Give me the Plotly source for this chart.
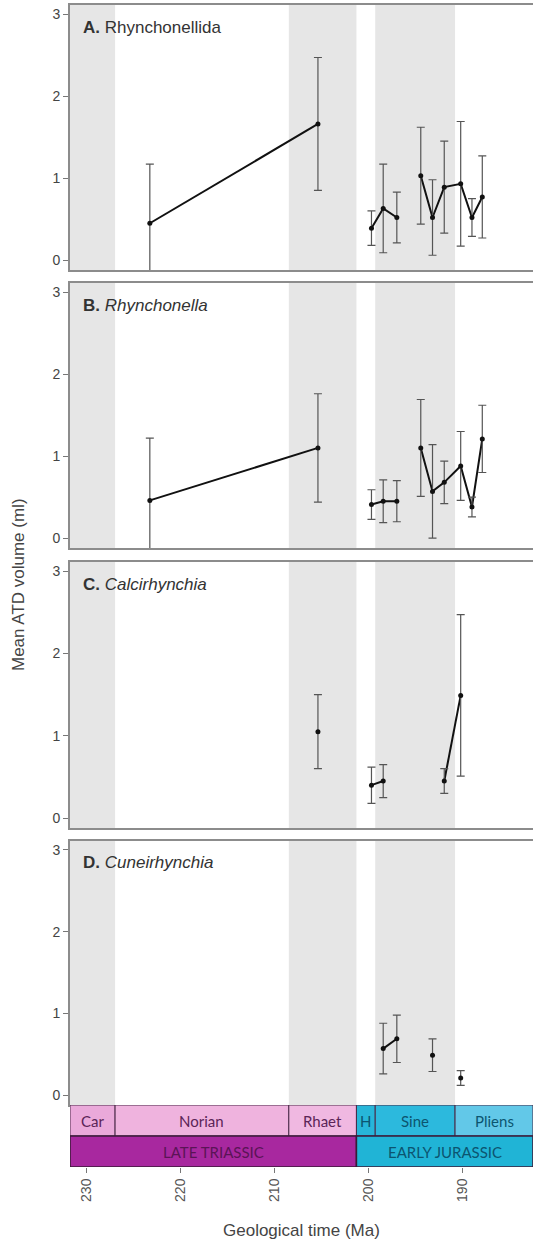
import plotly.graph_objects as go

# Sample ages (Ma) shared by the order- and genus-level series
ages_main = [223.3, 205.4, 199.7, 198.45, 197.0, 194.45, 193.2, 191.95, 190.2, 189.0, 187.9]

# A. Rhynchonellida
rhynchonellida_mean = [0.45, 1.66, 0.39, 0.63, 0.52, 1.03, 0.52, 0.89, 0.93, 0.52, 0.77]
rhynchonellida_sd = [0.72, 0.81, 0.21, 0.54, 0.31, 0.59, 0.46, 0.56, 0.76, 0.23, 0.50]
rhynchonellida_run = [0, 0, 1, 1, 1, 2, 2, 2, 2, 2, 2]

# B. Rhynchonella
rhynchonella_mean = [0.46, 1.10, 0.41, 0.45, 0.45, 1.10, 0.57, 0.68, 0.88, 0.38, 1.21]
rhynchonella_sd = [0.76, 0.66, 0.18, 0.26, 0.25, 0.59, 0.57, 0.26, 0.42, 0.12, 0.41]
rhynchonella_run = [0, 0, 1, 1, 1, 2, 2, 2, 2, 2, 2]

# C. Calcirhynchia
calcirhynchia_age = [205.4, 199.7, 198.45, 191.95, 190.2]
calcirhynchia_mean = [1.05, 0.40, 0.45, 0.45, 1.49]
calcirhynchia_sd = [0.45, 0.22, 0.20, 0.15, 0.98]
calcirhynchia_run = [0, 1, 1, 2, 2]

# D. Cuneirhynchia
cuneirhynchia_age = [198.45, 197.0, 193.2, 190.2]
cuneirhynchia_mean = [0.57, 0.69, 0.49, 0.21]
cuneirhynchia_sd = [0.31, 0.29, 0.20, 0.09]
cuneirhynchia_run = [0, 0, 1, 2]

# Time scale
x_old, x_young = 231.8, 182.5
stage_names = ["Car", "Norian", "Rhaet", "H", "Sine", "Pliens"]
stage_start = [231.8, 227.0, 208.5, 201.3, 199.3, 190.8]
stage_end = [227.0, 208.5, 201.3, 199.3, 190.8, 182.5]
stage_fill = ["#eaa9da", "#efb3de", "#f0b8e1", "#27b6d9", "#2cb9dd", "#62c8e8"]
stage_text = ["#5b2457", "#5b2457", "#5b2457", "#0c5570", "#0c5570", "#0c5570"]
epoch_names = ["LATE TRIASSIC", "EARLY JURASSIC"]
epoch_start = [231.8, 201.3]
epoch_end = [201.3, 182.5]
epoch_fill = ["#a8289f", "#20b4d6"]
epoch_text = ["#5a1456", "#0c5570"]

# Grey bands shown behind every panel (Carnian, Rhaetian, Sinemurian)
band_start = [231.8, 208.5, 199.3]
band_end = [227.0, 201.3, 190.8]
x_ticks = [230, 220, 210, 200, 190]

panels = [
    ("<b>A.</b> Rhynchonellida", ages_main, rhynchonellida_mean, rhynchonellida_sd, rhynchonellida_run),
    ("<b>B.</b> <i>Rhynchonella</i>", ages_main, rhynchonella_mean, rhynchonella_sd, rhynchonella_run),
    ("<b>C.</b> <i>Calcirhynchia</i>", calcirhynchia_age, calcirhynchia_mean, calcirhynchia_sd, calcirhynchia_run),
    ("<b>D.</b> <i>Cuneirhynchia</i>", cuneirhynchia_age, cuneirhynchia_mean, cuneirhynchia_sd, cuneirhynchia_run),
]

W, H = 533, 1243
top_px, bottom_px = 5, 1167
span = bottom_px - top_px


def frac(y_px):
    return (bottom_px - y_px) / span


panel_px = [(5, 270), (283, 548), (562, 828), (841, 1105)]
frame_col = "#8c8c8c"
font_fam = "Liberation Sans, Arial, sans-serif"
scale_fam = "Lato, Open Sans, sans-serif"

fig = go.Figure()
layout = dict(
    width=W, height=H,
    margin=dict(l=70, r=0, t=top_px, b=H - bottom_px, pad=0),
    plot_bgcolor="white", paper_bgcolor="white",
    showlegend=False,
    font=dict(family=font_fam, color="#444444"),
)
shapes = []
annotations = []

for i, (label, ages, mean, sd, run) in enumerate(panels, start=1):
    xa = "x" if i == 1 else f"x{i}"
    ya = "y" if i == 1 else f"y{i}"
    t, b = panel_px[i - 1]
    layout[f"xaxis{i if i > 1 else ''}"] = dict(
        domain=[0, 1], range=[x_old, x_young], anchor=ya,
        showline=True, mirror=True, linecolor=frame_col, linewidth=2,
        showticklabels=False, ticks="", showgrid=False, zeroline=False,
    )
    layout[f"yaxis{i if i > 1 else ''}"] = dict(
        domain=[frac(b), frac(t)], range=[-0.12, 3.11], anchor=xa,
        tickvals=[0, 1, 2, 3], ticks="outside", ticklen=5, tickcolor="#777777",
        showline=True, linecolor=frame_col, linewidth=2,
        showgrid=False, zeroline=False,
        tickfont=dict(size=14, color="#444444"),
    )
    for s, e in zip(band_start, band_end):
        shapes.append(dict(type="rect", xref=xa, yref=f"{ya} domain",
                           x0=s, x1=e, y0=0, y1=1, fillcolor="#e6e6e6",
                           line=dict(width=0), layer="below"))
    # connecting lines, broken between runs
    lx, ly = [], []
    for k in range(len(ages)):
        if k > 0 and run[k] != run[k - 1]:
            lx.append(None)
            ly.append(None)
        lx.append(ages[k])
        ly.append(mean[k])
    fig.add_trace(go.Scatter(x=lx, y=ly, mode="lines", xaxis=xa, yaxis=ya,
                             line=dict(color="#111111", width=2),
                             connectgaps=False, hoverinfo="skip"))
    fig.add_trace(go.Scatter(
        x=ages, y=mean, mode="markers", xaxis=xa, yaxis=ya,
        marker=dict(color="#111111", size=5),
        error_y=dict(type="data", array=sd, visible=True,
                     color="#555555", thickness=1.2, width=4),
    ))
    annotations.append(dict(
        text=label, xref=f"{xa} domain", yref=f"{ya} domain",
        x=(81 - 70) / 463, y=1 - 22 / (b - t), xanchor="left", yanchor="middle",
        showarrow=False, font=dict(size=17, color="#333333", family=font_fam),
    ))

# Time-scale strip with the tick labels underneath
layout["xaxis5"] = dict(
    domain=[0, 1], range=[x_old, x_young], anchor="y5",
    tickvals=x_ticks, ticks="outside", ticklen=5, tickcolor="#777777",
    tickangle=-90, tickfont=dict(size=14, color="#555555"),
    showline=False, showgrid=False, zeroline=False,
)
layout["yaxis5"] = dict(domain=[0, frac(1105)], range=[0, 2], visible=False,
                        anchor="x5")
for name, s, e, fc, tc in zip(stage_names, stage_start, stage_end, stage_fill, stage_text):
    shapes.append(dict(type="rect", xref="x5", yref="y5", x0=s, x1=e, y0=1, y1=2,
                       fillcolor=fc, line=dict(color="#4a2a48", width=1)))
    annotations.append(dict(text=name, xref="x5", yref="y5", x=(s + e) / 2, y=1.5,
                            showarrow=False, font=dict(size=15, color=tc, family=scale_fam)))
for name, s, e, fc, tc in zip(epoch_names, epoch_start, epoch_end, epoch_fill, epoch_text):
    shapes.append(dict(type="rect", xref="x5", yref="y5", x0=s, x1=e, y0=0, y1=1,
                       fillcolor=fc, line=dict(color="#3a1a38", width=1.5)))
    annotations.append(dict(text=name, xref="x5", yref="y5", x=(s + e) / 2, y=0.5,
                            showarrow=False, font=dict(size=15, color=tc, family=scale_fam)))

annotations.append(dict(text="Geological time (Ma)", xref="paper", yref="paper",
                        x=0.5, y=frac(1230), xanchor="center", yanchor="middle",
                        showarrow=False, font=dict(size=17, color="#444444")))
annotations.append(dict(text="Mean ATD volume (ml)", xref="paper", yref="paper",
                        x=(18 - 70) / 463, y=frac(585), xanchor="center", yanchor="middle",
                        textangle=-90, showarrow=False,
                        font=dict(size=17, color="#444444")))

layout["shapes"] = shapes
layout["annotations"] = annotations
fig.update_layout(**layout)
fig.write_html("out.html")
